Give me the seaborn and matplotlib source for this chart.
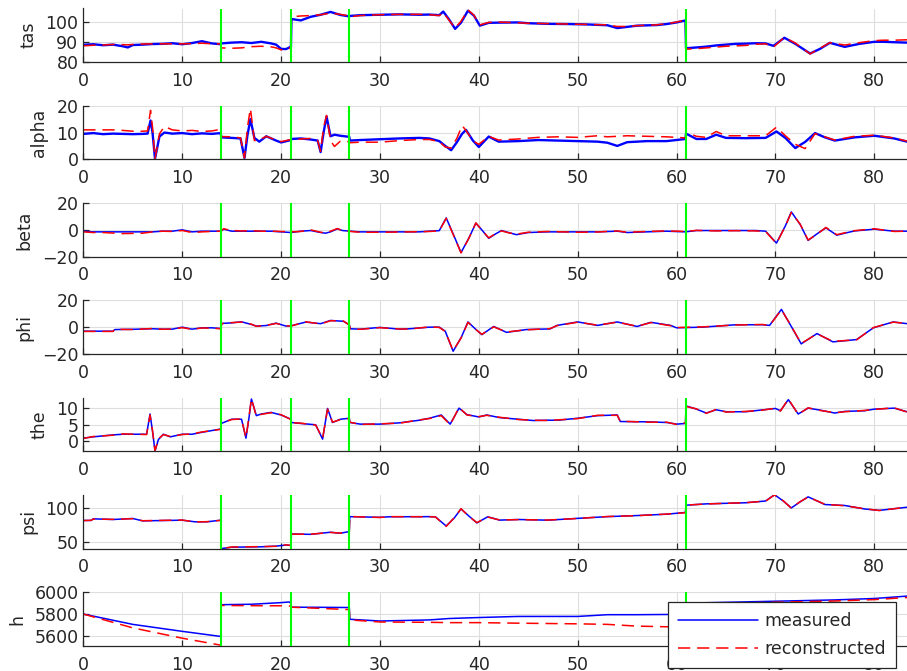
import matplotlib
matplotlib.use("Agg")
import seaborn as sns
import matplotlib.pyplot as plt

# ---- data ----
# segment boundaries (green lines)
boundaries = [13.9, 21.0, 26.9, 60.9]

tas_t = [0, 1, 2, 3, 4, 4.5, 5, 6, 7, 8, 9, 10, 11, 12, 13, 13.9,
         13.95, 15, 16, 17, 18, 19, 19.5, 20, 20.5, 21.0,
         21.05, 22, 23, 24, 25, 26, 26.9,
         26.95, 28, 30, 32, 34, 35, 36, 36.4, 37, 37.6, 38.2, 38.9, 39.5, 40.1, 41, 42, 44, 45, 47, 49, 51, 53, 54, 55, 56, 58, 59, 60, 60.9,
         60.95, 62, 63, 64, 65, 66, 67, 68, 69, 69.8, 70.9, 72, 73.5, 74.5, 75.5, 77, 78.5, 80, 81, 82, 83.3]
tas_meas = [88.5, 88.8, 88.3, 88.6, 87.8, 87.2, 88.4, 88.6, 88.9, 89.0, 89.3, 88.8, 89.4, 90.3, 89.2, 88.8,
            89.2, 89.6, 89.8, 89.4, 90.0, 89.2, 88.6, 86.5, 86.4, 87.6,
            101.3, 100.6, 102.4, 103.4, 104.8, 103.3, 102.6,
            102.8, 103.2, 103.4, 103.6, 103.4, 103.5, 103.2, 105.0, 101.0, 96.4, 99.5, 105.4, 103.0, 98.0, 99.4, 99.5, 99.6, 99.2, 98.9, 98.8, 98.6, 98.2, 96.8, 97.4, 98.0, 98.3, 98.8, 99.6, 100.6,
            86.8, 87.2, 87.6, 88.2, 88.6, 89.0, 89.1, 89.3, 89.2, 88.0, 92.0, 89.0, 84.2, 86.5, 89.5, 87.5, 89.0, 90.0, 90.0, 89.8, 89.6]
tas_rec = [88.0, 88.3, 88.4, 88.7, 88.6, 88.5, 88.7, 88.9, 89.0, 89.0, 89.0, 89.0, 89.1, 89.3, 89.0, 89.0,
           87.0, 86.8, 87.0, 87.6, 87.8, 87.5, 87.0, 86.0, 86.2, 87.2,
           102.4, 102.8, 103.0, 103.4, 104.2, 103.6, 102.8,
           102.4, 103.0, 103.4, 103.6, 103.6, 103.4, 103.0, 104.6, 100.6, 96.8, 100.2, 105.8, 103.2, 98.4, 99.6, 99.8, 99.4, 99.2, 99.0, 98.8, 98.6, 98.4, 97.6, 97.6, 98.0, 98.4, 99.0, 99.8, 100.8,
           86.4, 86.6, 87.0, 87.4, 87.8, 88.0, 88.2, 88.8, 89.0, 87.4, 92.2, 89.4, 84.0, 86.8, 89.6, 88.4, 89.6, 90.6, 90.8, 90.8, 91.0]

alpha_t = [0, 1, 2, 3, 4, 5, 6, 6.5, 6.8, 7.0, 7.25, 7.7, 8.2, 9, 10, 11, 12, 13, 13.9,
           13.95, 15, 15.9, 16.3, 16.6, 16.9, 17.3, 17.8, 18.5, 19.5, 20, 21.0,
           21.05, 22, 23, 23.7, 24.0, 24.3, 24.6, 25.0, 25.4, 26, 26.9,
           26.95, 28, 30, 32, 34, 35, 36, 36.6, 37.2, 37.8, 38.3, 38.7, 39.4, 40.0, 41, 42, 44, 46, 48, 50, 52, 53, 54, 55, 57, 59, 60.9,
           60.95, 62, 63, 64, 65, 67, 69, 70.1, 71, 72, 73, 74, 75, 76, 78, 80, 82, 83.3]
alpha_meas = [9.5, 9.8, 9.4, 9.6, 9.5, 9.4, 9.5, 9.6, 14.5, 10.0, 0.2, 8.5, 10.0, 9.6, 9.8, 9.4, 9.7, 9.5, 9.8,
              8.2, 8.0, 7.8, 0.5, 9.0, 15.0, 8.0, 6.6, 8.6, 7.0, 6.3, 7.2,
              7.6, 7.8, 7.4, 7.0, 2.7, 10.0, 16.0, 8.6, 9.2, 8.8, 8.4,
              7.0, 7.2, 7.5, 7.8, 8.0, 7.8, 6.8, 5.0, 3.4, 6.5, 9.5, 11.0, 7.0, 4.6, 8.5, 6.6, 6.8, 7.2, 7.0, 6.8, 6.6, 6.2, 5.0, 6.4, 6.8, 6.8, 7.6,
              9.6, 7.6, 7.6, 9.2, 8.0, 7.9, 8.0, 10.4, 8.0, 4.2, 6.5, 9.8, 8.2, 7.0, 8.2, 8.8, 7.8, 6.6]
alpha_rec = [11.0, 11.0, 11.0, 11.0, 10.8, 10.5, 10.5, 10.6, 18.3, 12.0, 0.2, 9.5, 12.3, 11.0, 10.6, 10.8, 10.4, 10.6, 11.2,
             8.5, 8.4, 8.0, 0.5, 12.0, 19.0, 7.0, 7.2, 8.6, 7.2, 6.6, 7.4,
             7.2, 7.6, 7.8, 7.0, 3.0, 12.0, 16.4, 7.0, 4.8, 6.8, 6.6,
             6.2, 6.4, 6.4, 7.0, 7.4, 7.4, 6.6, 4.6, 4.2, 8.0, 12.6, 10.8, 6.9, 5.6, 8.6, 7.2, 7.6, 8.2, 8.4, 8.2, 8.8, 8.4, 8.6, 8.8, 8.6, 8.4, 8.0,
             10.2, 8.6, 8.2, 10.4, 8.8, 8.8, 8.8, 12.0, 8.8, 5.6, 4.0, 9.6, 8.4, 7.2, 8.6, 9.0, 8.0, 6.8]

beta_t = [0, 1, 2, 4, 6, 7, 8, 9, 10, 11, 12, 13, 13.9, 14.2, 15, 16, 17, 18, 19, 20,
          21, 22, 23, 24, 24.5, 25, 25.7, 26.2, 27, 28, 30, 32, 34, 35, 36, 36.7, 37.4, 38.2, 39.0, 39.7,
          40.3, 41.0, 41.7, 42.3, 43.0, 43.8, 45, 47, 50, 52, 54, 55, 57, 59, 60.9, 62, 64, 66, 68, 69,
          70.1, 71.0, 71.6, 72.5, 73.3, 74.2, 75.1, 76.2, 77, 78, 80, 82, 83.3]
beta_meas = [-1.0, -1.5, -1.5, -1.5, -1.5, -1.5, -1.0, -1.0, 0.0, -1.5, -1.0, -1.0, -1.0, 0.5, -1.0, -1.0, -1.0, -1.0, -1.0, -1.5,
             -2.0, -1.0, -0.5, -2.0, -2.5, -1.5, 0.8, -0.5, -1.0, -1.5, -1.5, -1.5, -1.5, -1.0, -0.6, 8.9, -3.0, -17.0, -6.0, 5.0,
             0.0, -6.3, -3.0, -0.5, -2.0, -3.6, -2.0, -1.5, -1.5, -1.5, -1.0, -2.0, -1.5, -1.0, -1.5, -0.5, -0.5, -0.5, -0.5, -1.0,
             -9.9, 3.0, 13.4, 4.0, -7.9, -3.0, 1.5, -4.0, -2.5, -0.8, 0.5, -1.0, -1.0]
beta_rec = [-1.5, -2.0, -2.0, -2.8, -2.5, -1.5, -1.0, -1.2, -0.5, -2.0, -1.5, -1.2, -1.0, 0.8, -0.5, -0.8, -0.6, -1.0, -1.0, -1.2,
            -1.5, -1.2, 0.0, -1.8, -2.2, -1.0, 1.0, -0.8, -1.2, -1.8, -1.8, -1.6, -1.4, -1.2, -0.8, 8.6, -3.4, -17.2, -6.2, 5.2,
            -0.2, -6.0, -2.8, -0.8, -2.2, -3.2, -1.8, -1.2, -1.8, -1.6, -0.8, -1.8, -1.2, -0.8, -1.2, -0.4, -0.8, -0.6, -0.8, -1.2,
            -10.2, 2.8, 13.0, 4.2, -7.6, -3.2, 1.8, -3.6, -2.2, -0.6, 0.8, -1.2, -1.0]

phi_t = [0, 3, 3.2, 5, 7, 8, 9, 10, 11, 12, 13, 13.9, 14.0, 15, 16, 17, 17.5, 18.5, 19.5, 20.5,
         21, 22.5, 24, 25, 26.3, 26.9, 27.0, 28, 30, 32, 33, 35, 36, 36.6, 37.4, 38.2, 38.9, 39.6, 40.3, 41.5,
         42.8, 44.8, 47.2, 47.9, 50, 52, 54, 56, 57.4, 59.4, 60, 62.6, 66, 68.7, 69.4, 70.6, 71.6, 72.6, 74.2, 75.8,
         78.2, 79.9, 81.9, 83.3]
phi_meas = [-3.0, -3.0, -1.8, -1.6, -1.2, -1.5, -1.5, 0.0, -1.5, -0.5, -0.5, -1.0, 2.8, 3.2, 4.0, 2.0, 0.8, 1.2, 3.0, 0.8,
            1.0, 3.8, 2.6, 5.0, 4.4, 1.8, -1.2, -1.5, -0.2, -1.5, -1.2, 0.0, 0.0, -3.0, -18.0, -8.0, 3.9, -1.0, -5.6, 0.5,
            -3.9, -1.8, -1.3, 1.3, 3.9, 1.3, 3.9, 0.5, 3.6, 1.3, -0.5, 0.0, 1.8, 1.8, 1.3, 13.3, 0.5, -12.5, -4.8, -11.0,
            -9.3, -0.5, 3.9, 2.6]
phi_rec = [-3.2, -3.2, -1.6, -1.8, -1.0, -1.6, -1.4, -0.4, -1.6, -0.6, -0.8, -1.2, 2.6, 3.4, 3.8, 2.2, 0.6, 1.4, 2.8, 1.0,
           0.8, 4.0, 2.4, 4.8, 4.6, 1.6, -1.4, -1.6, -0.4, -1.4, -1.4, 0.2, -0.2, -3.2, -17.6, -8.2, 3.6, -1.2, -5.4, 0.2,
           -3.6, -2.0, -1.1, 1.1, 3.7, 1.5, 3.7, 0.7, 3.4, 1.1, -0.3, 0.2, 1.6, 2.0, 1.1, 13.0, 0.7, -12.2, -5.0, -10.6,
           -9.5, -0.3, 3.7, 2.8]

the_t = [0, 1, 3, 4, 6.4, 6.75, 7.0, 7.25, 7.6, 8.1, 8.8, 10, 11, 12, 13.9, 13.95, 15, 16, 16.45, 16.75,
         17.0, 17.5, 18, 19, 20, 21.0, 21.05, 22, 23.5, 24.2, 24.7, 25.2, 26, 26.9, 26.95, 28, 30, 32, 34, 35,
         36.2, 37.1, 38.0, 38.8, 40.0, 40.8, 42.1, 44, 45.5, 47, 48, 50, 52, 54, 54.3, 57, 59, 60, 60.9, 60.95,
         62, 63, 64, 65, 67, 68.5, 70, 70.5, 71.3, 72.3, 73.3, 74.5, 76, 77, 79, 80, 82, 83.3]
the_meas = [0.9, 1.3, 1.9, 2.1, 2.1, 8.3, 3.0, -3.0, 0.5, 2.1, 1.3, 2.1, 2.1, 2.7, 3.7, 5.4, 6.7, 6.7, 0.9, 7.0,
            12.9, 7.8, 8.3, 8.8, 8.0, 6.7, 5.7, 5.4, 5.0, 0.6, 10.0, 5.7, 6.7, 7.0, 5.7, 5.2, 5.2, 5.6, 6.4, 7.0,
            8.0, 5.2, 10.1, 8.1, 7.4, 8.0, 7.2, 6.7, 6.3, 6.4, 6.4, 7.0, 7.8, 8.0, 6.0, 5.9, 5.7, 5.2, 5.4, 10.8,
            9.8, 8.6, 9.6, 9.0, 9.0, 9.5, 10.0, 9.3, 12.7, 8.3, 10.1, 9.5, 8.6, 9.1, 9.3, 9.8, 10.1, 9.0]
the_rec = [0.8, 1.4, 1.8, 2.2, 2.0, 8.0, 3.2, -3.0, 0.7, 2.0, 1.4, 2.0, 2.2, 2.8, 3.6, 5.5, 6.6, 6.8, 1.0, 7.4,
           13.0, 7.6, 8.2, 8.7, 8.1, 6.6, 5.6, 5.5, 4.9, 0.8, 9.8, 5.8, 6.6, 6.9, 5.8, 5.1, 5.3, 5.5, 6.5, 6.9,
           7.8, 5.0, 10.3, 8.0, 7.5, 7.9, 7.3, 6.6, 6.4, 6.3, 6.5, 6.9, 7.9, 7.9, 6.1, 5.8, 5.8, 5.1, 5.6, 10.6,
           9.9, 8.5, 9.7, 8.9, 9.1, 9.4, 10.1, 9.2, 12.9, 8.2, 10.2, 9.4, 8.7, 9.0, 9.4, 9.7, 10.2, 8.9]

psi_t = [0, 0.8, 1.0, 3, 5, 6, 10, 11.3, 12.5, 13.9, 13.95, 15, 18, 19.5, 20.5, 21.0, 21.05, 23, 25, 26,
         26.9, 26.95, 30, 31, 35, 35.6, 36.7, 37.5, 38.2, 39.0, 39.8, 40.9, 42.1, 44, 47, 50, 53, 56, 59, 60.9,
         60.95, 63, 67, 69, 69.9, 70.8, 71.6, 72.4, 73.3, 75, 77, 79, 80.5, 83.3]
psi_meas = [81.6, 81.6, 84.0, 83.0, 84.5, 81.0, 82.0, 79.6, 79.6, 82.0, 40.3, 42.3, 42.9, 43.9, 45.4, 44.9, 61.7, 61.2, 64.3, 62.8,
            65.3, 87.2, 86.2, 87.0, 87.2, 87.0, 73.4, 85.0, 98.5, 88.0, 78.0, 87.0, 82.1, 83.0, 82.0, 84.7, 87.2, 88.8, 90.8, 93.4,
            104.0, 106.0, 107.6, 110.2, 119.4, 110.0, 100.0, 108.0, 116.3, 105.0, 103.6, 98.5, 96.4, 101.0]
psi_rec = [81.4, 81.8, 83.6, 83.2, 84.2, 81.2, 82.2, 79.4, 79.8, 81.8, 40.0, 42.6, 43.2, 43.6, 45.8, 45.0, 61.5, 61.4, 64.0, 63.0,
           65.0, 87.4, 86.0, 87.2, 87.0, 86.8, 73.0, 85.4, 98.8, 87.6, 78.4, 86.6, 82.3, 82.8, 82.2, 84.5, 87.4, 88.6, 91.0, 93.0,
           104.2, 105.8, 107.8, 110.0, 119.0, 110.4, 99.6, 108.4, 116.0, 105.4, 103.2, 98.8, 96.2, 101.2]

h_t = [0, 5, 10, 13.9, 13.95, 17, 20, 20.8, 21.0, 21.05, 24, 26.9, 26.95, 30, 35, 37, 40, 44, 50, 53,
       56, 59, 60.9, 60.95, 66, 71.5, 76, 80, 83.3]
h_meas = [5800, 5705, 5641, 5594, 5886, 5890, 5905, 5911, 5900, 5863, 5862, 5860, 5752, 5736, 5746, 5759, 5768, 5778, 5778, 5794,
          5794, 5796, 5796, 5900, 5910, 5921, 5930, 5943, 5965]
h_rec = [5800, 5673, 5578, 5514, 5879, 5877, 5876, 5874, 5873, 5863, 5852, 5841, 5746, 5727, 5724, 5721, 5721, 5716, 5710, 5705,
         5689, 5683, 5680, 5890, 5900, 5911, 5920, 5933, 5952]

names = ["tas", "alpha", "beta", "phi", "the", "psi", "h"]
x_ticks = [0, 10, 20, 30, 40, 50, 60, 70, 80]
y_ticks = {"tas": [80, 90, 100], "alpha": [0, 10, 20], "beta": [-20, 0, 20], "phi": [-20, 0, 20],
           "the": [0, 5, 10], "psi": [50, 100], "h": [5600, 5800, 6000]}

# ---- styling ----
sns.set_style("white")
plt.rcParams["font.family"] = ["DejaVu Sans"]
plt.rcParams["font.size"] = 12.5
dark = "#262626"

series = {
    "tas": (tas_t, tas_meas, tas_rec, (80, 106.5)),
    "alpha": (alpha_t, alpha_meas, alpha_rec, (0, 20)),
    "beta": (beta_t, beta_meas, beta_rec, (-20, 20)),
    "phi": (phi_t, phi_meas, phi_rec, (-20, 20)),
    "the": (the_t, the_meas, the_rec, (-3.1, 13.3)),
    "psi": (psi_t, psi_meas, psi_rec, (40.4, 119)),
    "h": (h_t, h_meas, h_rec, (5508, 6000)),
}

W, H = 907, 671
fig = plt.figure(figsize=(W / 100, H / 100), dpi=100)
left = 83.3 / W
width = 1 - left

for i, name in enumerate(names):
    t, meas, rec, ylim = series[name]
    bottom_px = 62 + 97.3 * i
    ax = fig.add_axes([left, 1 - bottom_px / H, width, 53.5 / H])

    blue_lw = 1.7 if name in ("tas", "alpha") else 1.1
    sns.lineplot(x=t, y=meas, ax=ax, color="#0000ff", lw=blue_lw, estimator=None,
                 sort=False, legend=False, label="measured")
    sns.lineplot(x=t, y=rec, ax=ax, color="#ff0000", lw=1.1, estimator=None,
                 sort=False, legend=False, label="reconstructed", linestyle=(0, (8, 4.5)))

    for b in boundaries:
        ax.axvline(b, color="#00ff00", lw=1.5, zorder=5)

    ax.set_xlim(0, 83.3)
    ax.set_ylim(*ylim)
    ax.set_xticks(x_ticks)
    ax.set_yticks(y_ticks[name])
    ax.set_xlabel("")
    ax.set_ylabel(name, color=dark, labelpad=6)
    ax.grid(True, color="#dedede", lw=0.8)
    ax.set_axisbelow(True)
    for side in ("top", "right"):
        ax.spines[side].set_visible(False)
    for side in ("left", "bottom"):
        ax.spines[side].set_color(dark)
        ax.spines[side].set_linewidth(0.9)
    ax.tick_params(direction="in", length=4, width=0.9, color=dark, labelcolor=dark,
                   bottom=True, left=True, labelsize=12.5)
    ax.tick_params(axis="x", pad=7)
    ax.tick_params(axis="y", pad=3.5)

    if name == "h":
        leg = ax.legend(loc="upper left", bbox_to_anchor=(0.710, 0.81), frameon=True,
                        fancybox=False, edgecolor=dark, framealpha=1, handlelength=4.6,
                        handletextpad=0.4, borderpad=0.55, labelspacing=0.6, fontsize=12.5,
                        borderaxespad=0)
        leg.get_frame().set_linewidth(0.9)
        leg.set_zorder(10)

fig.savefig("out.png", dpi=100)
